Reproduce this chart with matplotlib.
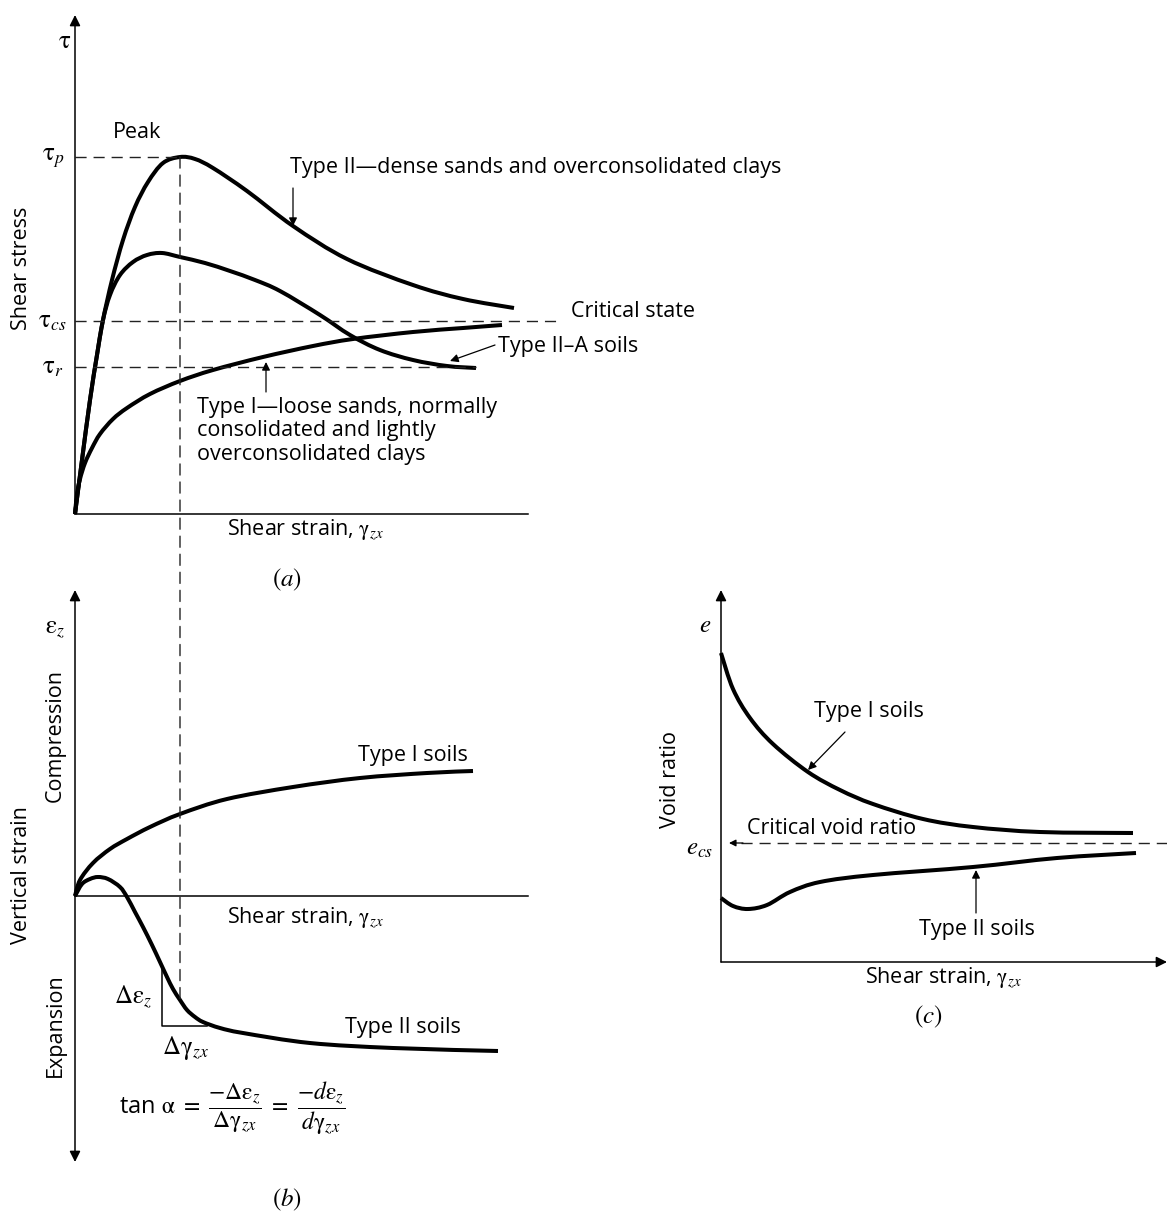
import numpy as np
import matplotlib
matplotlib.use('Agg')
import matplotlib.pyplot as plt
from matplotlib.patches import ConnectionPatch, PathPatch
from matplotlib.path import Path

plt.rcParams['font.family'] = ['Open Sans', 'DejaVu Sans']
plt.rcParams['mathtext.fontset'] = 'stix'

# ---- panel (a): shear stress vs shear strain (arbitrary units) ----
a_type2_strain = [0, 7, 15, 22, 28, 37, 48, 60, 73, 88, 105, 120, 138, 172, 218, 272, 338, 388, 439]
a_type2_stress = [0, 54, 114, 159, 194, 234, 274, 307, 332, 351, 357, 355, 346, 323, 288, 255, 229, 215, 206]
a_type2a_strain = [0, 7, 15, 22, 28, 35, 45, 58, 72, 87, 105, 130, 155, 180, 205, 245, 275, 305, 338, 372, 401]
a_type2a_stress = [0, 54, 114, 159, 194, 219, 239, 252, 259, 261, 257, 251, 243, 234, 223, 199, 179, 164, 154, 148, 146]
a_type1_strain = [0, 2, 5, 10, 17, 25, 38, 52, 75, 105, 138, 188, 238, 278, 338, 388, 427]
a_type1_stress = [0, 20, 35, 51, 66, 80, 95, 106, 120, 133, 144, 157, 168, 175, 182, 186, 189]
tau_p, tau_cs, tau_r = 357, 193, 147
peak_strain = 105

# ---- panel (b): vertical strain vs shear strain ----
b_type1_strain = [0, 5, 18, 35, 52, 75, 105, 152, 218, 285, 352, 398]
b_type1_vstrain = [0, 16, 33, 47, 57, 69, 82, 97, 109, 118, 123, 125]
b_type2_strain = [0, 7, 15, 23, 33, 45, 52, 60, 68, 77, 85, 92, 98, 105, 112, 120, 128, 145, 168, 235, 318, 423]
b_type2_vstrain = [0, 12, 17, 19, 17, 9, -1, -16, -31, -49, -66, -81, -93, -104, -114, -121, -126, -132, -137, -147, -152, -155]
slope_tri_strain = [87, 132]
slope_tri_vstrain = -130

# ---- panel (c): void ratio vs shear strain ----
c_type1_strain = [0, 12, 29, 52, 87, 119, 152, 202, 252, 319, 412]
c_type1_e = [309, 273, 244, 218, 190, 172, 158, 143, 135, 130, 129]
c_type2_strain = [0, 12, 27, 46, 69, 99, 152, 252, 336, 415]
c_type2_e = [64, 56, 53, 57, 70, 80, 87, 95, 104, 109]
e_cs = 119

W, H = 1167, 1212
fig = plt.figure(figsize=(W / 100, H / 100), dpi=100)


def panel(px0, px1, py0, py1, ox, oy):
    ax = fig.add_axes([px0 / W, 1 - py1 / H, (px1 - px0) / W, (py1 - py0) / H])
    ax.set_xlim(px0 - ox, px1 - ox)
    ax.set_ylim(oy - py1, oy - py0)
    ax.axis('off')
    return ax


def smooth_curve(ax, xs, ys, lw=2.9):
    # Catmull-Rom spline through the read points, drawn as cubic Bezier segments
    p = np.column_stack([xs, ys]).astype(float)
    p_ext = np.vstack([p[0], p, p[-1]])
    verts = [p[0]]
    codes = [Path.MOVETO]
    for i in range(1, len(p_ext) - 2):
        c1 = p_ext[i] + (p_ext[i + 1] - p_ext[i - 1]) / 6
        c2 = p_ext[i + 1] - (p_ext[i + 2] - p_ext[i]) / 6
        verts += [c1, c2, p_ext[i + 1]]
        codes += [Path.CURVE4] * 3
    ax.add_patch(PathPatch(Path(verts, codes), fill=False, ec='black', lw=lw,
                           capstyle='butt', joinstyle='round'))


dash = dict(color='#222222', lw=1.0, linestyle=(0, (8, 5)))
axis_arrow = dict(arrowstyle='-|>', color='black', lw=1.1, mutation_scale=16, shrinkA=0, shrinkB=0)
note_arrow = dict(arrowstyle='-|>', color='black', lw=0.9, mutation_scale=12, shrinkA=0, shrinkB=0)
fs = 15.5
ms = 18

# ================= (a) =================
ax = panel(0, W, 0, 595, 75, 514)
ax.annotate('', xy=(0, 499), xytext=(0, 0), arrowprops=axis_arrow)
ax.plot([0, 453], [0, 0], color='black', lw=1.1)
ax.plot([0, peak_strain], [tau_p, tau_p], **dash)
ax.plot([0, 485], [tau_cs, tau_cs], **dash)
ax.plot([0, max(a_type2a_strain)], [tau_r, tau_r], **dash)
smooth_curve(ax, a_type2_strain, a_type2_stress)
smooth_curve(ax, a_type2a_strain, a_type2a_stress)
smooth_curve(ax, a_type1_strain, a_type1_stress)

ax.text(-10, 472, r'$\mathrm{\tau}$', fontsize=ms, ha='center', va='center')
ax.text(-10, tau_p, r'$\mathrm{\tau}_p$', fontsize=ms, ha='right', va='center')
ax.text(-9, tau_cs, r'$\mathrm{\tau}_{cs}$', fontsize=ms, ha='right', va='center')
ax.text(-11, tau_r, r'$\mathrm{\tau}_r$', fontsize=ms, ha='right', va='center')
ax.text(-53, 246, 'Shear stress', fontsize=fs, rotation=90, ha='center', va='center')
ax.text(62, 381, 'Peak', fontsize=fs, ha='center', va='center')
ax.text(215, 346, 'Type II\u2014dense sands and overconsolidated clays', fontsize=fs, ha='left', va='center')
ax.annotate('', xy=(218, 288), xytext=(218, 326), arrowprops=note_arrow)
ax.text(496, 202, 'Critical state', fontsize=fs, ha='left', va='center')
ax.text(423, 167, 'Type II\u2013A soils', fontsize=fs, ha='left', va='center')
ax.annotate('', xy=(375, 153), xytext=(420, 169), arrowprops=note_arrow)
ax.text(122, 83, 'Type I\u2014loose sands, normally\nconsolidated and lightly\noverconsolidated clays',
        fontsize=fs, ha='left', va='center', linespacing=1.15)
ax.annotate('', xy=(191, 152), xytext=(191, 122), arrowprops=note_arrow)
ax.text(152, -16, r'Shear strain, $\mathrm{\gamma}_{zx}$', fontsize=fs, ha='left', va='center')
ax.text(212, -66, r'$(a)$', fontsize=ms, ha='center', va='center')
ax_a = ax

# ================= (b) =================
ax = panel(0, 640, 575, H, 75, 896)
ax.annotate('', xy=(0, 306), xytext=(0, 0), arrowprops=axis_arrow)
ax.annotate('', xy=(0, -266), xytext=(0, 0), arrowprops=axis_arrow)
ax.plot([0, 453], [0, 0], color='black', lw=1.1)
smooth_curve(ax, b_type1_strain, b_type1_vstrain)
smooth_curve(ax, b_type2_strain, b_type2_vstrain)
tri_top = np.interp(slope_tri_strain[0], b_type2_strain, b_type2_vstrain)
ax.plot([slope_tri_strain[0], slope_tri_strain[0], slope_tri_strain[1]],
        [tri_top, slope_tri_vstrain, slope_tri_vstrain], color='black', lw=1.1)

ax.text(-20, 268, r'$\mathrm{\varepsilon}_z$', fontsize=ms, ha='center', va='center')
ax.text(-53, 21, 'Vertical strain', fontsize=fs, rotation=90, ha='center', va='center')
ax.text(-20, 161, 'Compression', fontsize=fs, rotation=90, ha='center', va='center')
ax.text(-20, -129, 'Expansion', fontsize=fs, rotation=90, ha='center', va='center')
ax.text(283, 141, 'Type I soils', fontsize=fs, ha='left', va='center')
ax.text(152, -21, r'Shear strain, $\mathrm{\gamma}_{zx}$', fontsize=fs, ha='left', va='center')
ax.text(270, -132, 'Type II soils', fontsize=fs, ha='left', va='center')
ax.text(58, -101, r'$\Delta\mathrm{\varepsilon}_z$', fontsize=ms, ha='center', va='center')
ax.text(110, -152, r'$\Delta\mathrm{\gamma}_{zx}$', fontsize=ms, ha='center', va='center')
ax.text(157, -212,
        r'tan $\mathrm{\alpha}\ =\ \dfrac{-\Delta\mathrm{\varepsilon}_z}{\Delta\mathrm{\gamma}_{zx}}\ =\ '
        r'\dfrac{-d\mathrm{\varepsilon}_z}{d\mathrm{\gamma}_{zx}}$',
        fontsize=17, ha='center', va='center')
ax.text(212, -304, r'$(b)$', fontsize=ms, ha='center', va='center')
ax_b = ax

# dashed line from the peak in (a) down to the Type II curve in (b)
b_at_peak = np.interp(peak_strain, b_type2_strain, b_type2_vstrain)
con = ConnectionPatch(xyA=(peak_strain, tau_p), coordsA=ax_a.transData,
                      xyB=(peak_strain, b_at_peak), coordsB=ax_b.transData, **dash)
fig.add_artist(con)

# ================= (c) =================
ax = panel(640, W, 575, H, 721, 962)
ax.annotate('', xy=(0, 372), xytext=(0, 0), arrowprops=axis_arrow)
ax.annotate('', xy=(446, 0), xytext=(0, 0), arrowprops=axis_arrow)
ax.plot([20, 446], [e_cs, e_cs], **dash)
ax.annotate('', xy=(8, e_cs), xytext=(22, e_cs),
            arrowprops=dict(arrowstyle='-|>', color='black', lw=0.9, mutation_scale=10, shrinkA=0, shrinkB=0))
smooth_curve(ax, c_type1_strain, c_type1_e)
smooth_curve(ax, c_type2_strain, c_type2_e)

ax.text(-16, 337, r'$e$', fontsize=ms, ha='center', va='center')
ax.text(-51, 182, 'Void ratio', fontsize=fs, rotation=90, ha='center', va='center')
ax.text(-21, 114, r'$e_{cs}$', fontsize=ms, ha='center', va='center')
ax.text(26, 134, 'Critical void ratio', fontsize=fs, ha='left', va='center')
ax.text(148, 250, 'Type I soils', fontsize=fs, ha='center', va='center')
ax.annotate('', xy=(87, 192), xytext=(124, 230), arrowprops=note_arrow)
ax.text(256, 32, 'Type II soils', fontsize=fs, ha='center', va='center')
ax.annotate('', xy=(255, 92), xytext=(255, 49), arrowprops=note_arrow)
ax.text(222, -16, r'Shear strain, $\mathrm{\gamma}_{zx}$', fontsize=fs, ha='center', va='center')
ax.text(207, -55, r'$(c)$', fontsize=ms, ha='center', va='center')

fig.savefig('out.png', dpi=100)
